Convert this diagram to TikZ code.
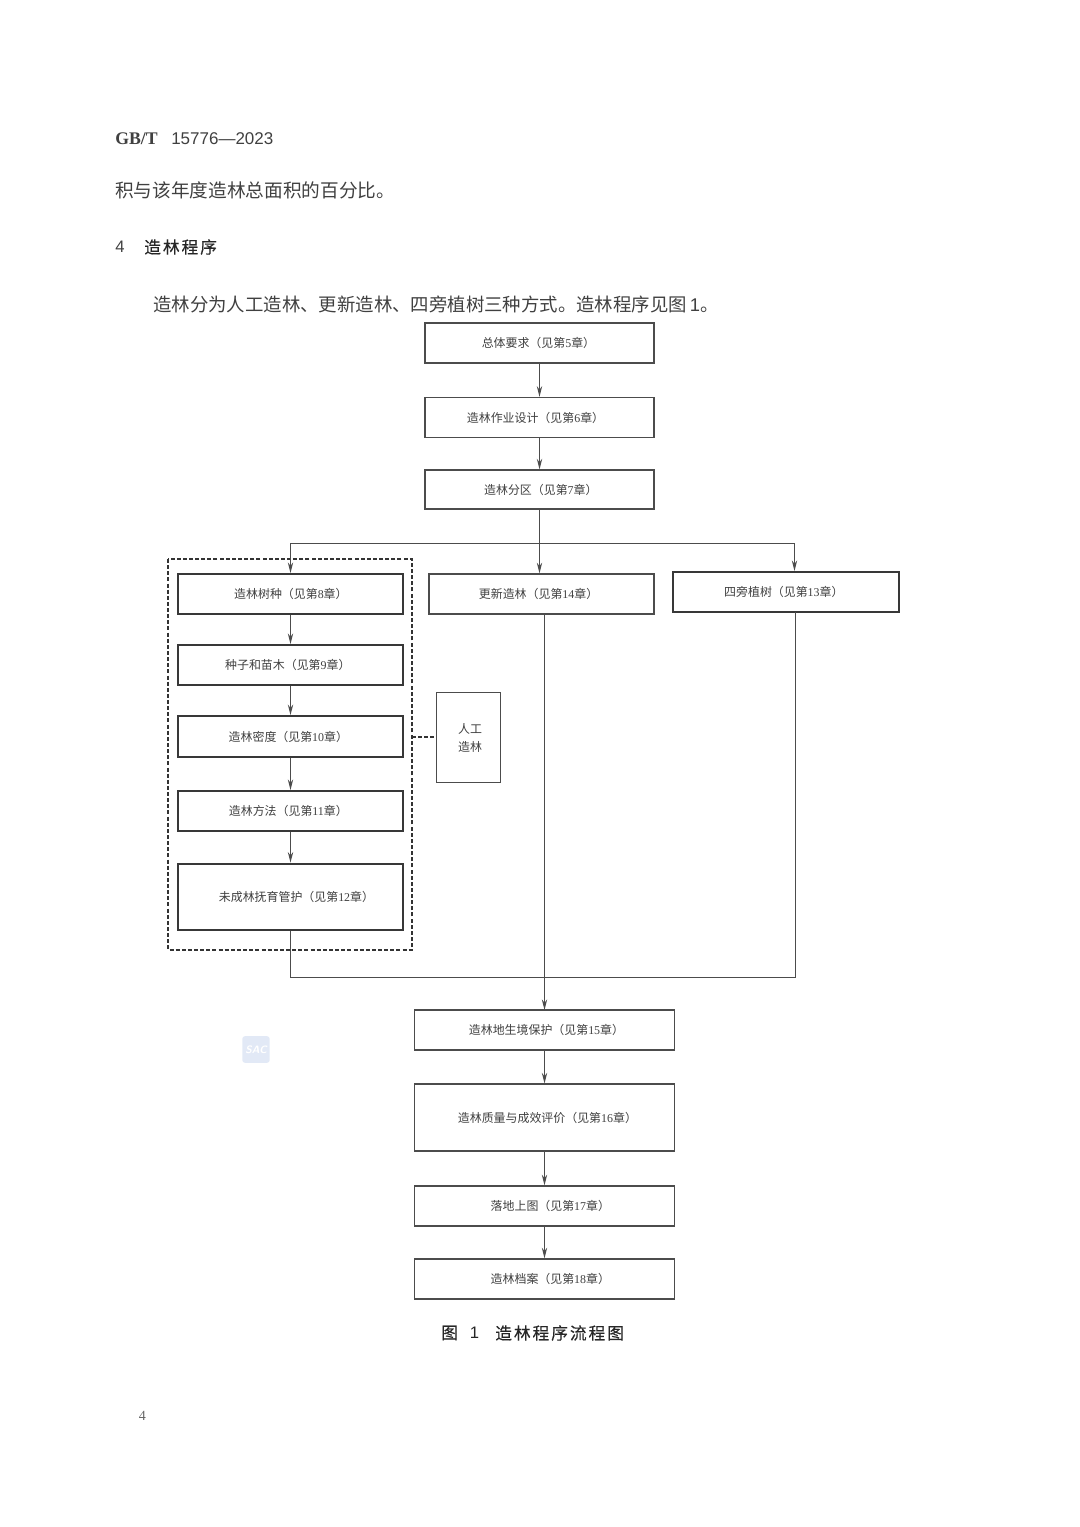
\documentclass[tikz,border=0pt]{standalone}
\usepackage{fontspec}
\setmainfont{Liberation Serif}
\newfontfamily\cjk{Noto Sans CJK SC}
\newfontfamily\cjkh[LetterSpace=12,FakeBold=0.5]{Noto Sans CJK SC}
\newfontfamily\sanslat{Liberation Sans}
\usetikzlibrary{arrows.meta}
\definecolor{ink}{gray}{0.25}
\definecolor{linec}{gray}{0.3}
\definecolor{markc}{RGB}{226,233,246}
\newcommand{\dg}[1]{{\rmfamily #1}}
\newcommand{\lab}[2]{\hbox{\raisebox{-0.6pt}{\kern #1pt #2\kern -#1pt}}}
\tikzset{
  x=0.75pt,y=-0.75pt,
  flowbox/.style={draw=linec,line width=1.05pt,fill=white,inner sep=0pt,text=ink,font=\cjk\fontsize{8.95pt}{11pt}\selectfont,align=center},
  heavybox/.style={flowbox,draw=black!78,line width=1.45pt},
  plain/.style={inner sep=0pt,anchor=west,text=ink,font=\cjk\fontsize{14pt}{16pt}\selectfont},
  flow/.style={draw=linec,line width=0.85pt,-{Stealth[length=8pt,width=4pt]}},
  link/.style={draw=linec,line width=0.8pt},
  dashbox/.style={draw=black!80,line width=0.85pt,dash pattern=on 3pt off 1.6pt},
}
\begin{document}
\begin{tikzpicture}
\useasboundingbox (0,0) rectangle (1080,1527);
% page text
\node[plain,font=\rmfamily\bfseries\fontsize{13.3pt}{15pt}\selectfont] (std) at (115,139) {GB/T};
\node[plain,font=\sanslat\fontsize{12.75pt}{15pt}\selectfont] (num) at (171,139) {15776—2023};
\node[plain] (para1) at (115,190) {积与该年度造林总面积的百分比。};
\node[plain,font=\sanslat\fontsize{12.5pt}{15pt}\selectfont] (secn) at (115,247) {4};
\node[plain,font=\cjkh\fontsize{12.5pt}{15pt}\selectfont,text=black!85] (sect) at (144,247) {造林程序};
\node[plain,font=\cjk\fontsize{13.8pt}{16pt}\selectfont] (para2) at (153,304) {造林分为人工造林、更新造林、四旁植树三种方式。造林程序见图\,{\sanslat 1}。};
% top boxes
\node[flowbox,minimum width=172pt,minimum height=30pt] (a1) at (539.5,343) {\lab{-0.8}{总体要求（见第\dg{5}章）}};
\node[flowbox,minimum width=172pt,minimum height=30pt] (a2) at (539.5,417.5) {\lab{-3}{造林作业设计（见第\dg{6}章）}};
\node[flowbox,minimum width=172pt,minimum height=29pt] (a3) at (539.5,489.5) {\lab{1}{造林分区（见第\dg{7}章）}};
% artificial group frame
\draw[dashbox] (168,559) rectangle (412,950);
\coordinate (framee) at (412,737);
% left column
\node[heavybox,minimum width=169pt,minimum height=30pt] (b1) at (290.5,594) {\lab{0.3}{造林树种（见第\dg{8}章）}};
\node[heavybox,minimum width=169pt,minimum height=30pt] (b2) at (290.5,665) {\lab{-2}{种子和苗木（见第\dg{9}章）}};
\node[heavybox,minimum width=169pt,minimum height=30.5pt] (b3) at (290.5,736.5) {\lab{-1.6}{造林密度（见第\dg{10}章）}};
\node[heavybox,minimum width=169pt,minimum height=30pt] (b4) at (290.5,811) {\lab{-1.6}{造林方法（见第\dg{11}章）}};
\node[heavybox,minimum width=169pt,minimum height=50pt] (b5) at (290.5,897) {\lab{4.5}{未成林抚育管护（见第\dg{12}章）}};
% other two branches
\node[flowbox,minimum width=169pt,minimum height=30pt] (c) at (541.5,594) {\lab{-2.2}{更新造林（见第\dg{14}章）}};
\node[heavybox,minimum width=169pt,minimum height=30pt] (d) at (786,592) {\lab{-1.6}{四旁植树（见第\dg{13}章）}};
\node[flowbox,line width=0.9pt,minimum width=47.5pt,minimum height=67pt,font=\cjk\fontsize{8.95pt}{13.5pt}\selectfont] (e) at (468.5,737.5) {\lab{1.2}{人工}\\\lab{1.2}{造林}};
% bottom boxes
\node[flowbox,minimum width=195pt,minimum height=30pt] (f1) at (544.5,1030) {\lab{1.5}{造林地生境保护（见第\dg{15}章）}};
\node[flowbox,minimum width=195pt,minimum height=50pt] (f2) at (544.5,1117.5) {\lab{2.2}{造林质量与成效评价（见第\dg{16}章）}};
\node[flowbox,minimum width=195pt,minimum height=30pt] (f3) at (544.5,1206) {\lab{4.4}{落地上图（见第\dg{17}章）}};
\node[flowbox,minimum width=195pt,minimum height=30pt] (f4) at (544.5,1279) {\lab{4.4}{造林档案（见第\dg{18}章）}};
% caption and page number
\node[plain,font=\cjkh\fontsize{12.5pt}{15pt}\selectfont,text=black!85] (capa) at (441,1333) {图\hspace{9pt}{\sanslat 1}};
\node[plain,font=\cjkh\fontsize{12.5pt}{15pt}\selectfont,text=black!85] (capb) at (495,1333) {造林程序流程图};
\node[plain,font=\rmfamily\fontsize{10.5pt}{12pt}\selectfont,text=black!60] (pg) at (138.5,1416) {4};
% watermark
\node[fill=markc,rounded corners=2pt,minimum width=20.5pt,minimum height=20pt,inner sep=0pt,text=white,font=\sffamily\bfseries\itshape\fontsize{8pt}{9pt}\selectfont] (mark) at (256,1049.5) {SAC};
% junction coordinates
\coordinate (j0) at (a3.south |- 0,543.5);
\coordinate (jb) at (b1.north |- j0);
\coordinate (jd) at (794.5,543.5);
\coordinate (cout) at (544.5,614);
\coordinate (dout) at (795.5,612);
\coordinate (fin) at (544.5,1010);
\coordinate (ml) at (b5.south |- 0,977.5);
\coordinate (mr) at (dout |- ml);
% connectors
\draw[flow] (a1) -- (a2);
\draw[flow] (a2) -- (a3);
\draw[flow] (a3.south) -- (a3.south |- c.north);
\draw[flow] (j0) -- (jb) -- (b1.north);
\draw[flow] (j0) -- (jd) -- (jd |- d.north);
\draw[flow] (b1) -- (b2);
\draw[flow] (b2) -- (b3);
\draw[flow] (b3) -- (b4);
\draw[flow] (b4) -- (b5);
\draw[flow] (cout) -- (fin);
\draw[link] (b5.south) -- (ml) -- (mr) -- (dout);
\draw[dashbox] (framee) -- (e.west |- framee);
\draw[flow] (f1) -- (f2);
\draw[flow] (f2) -- (f3);
\draw[flow] (f3) -- (f4);
\end{tikzpicture}
\end{document}
